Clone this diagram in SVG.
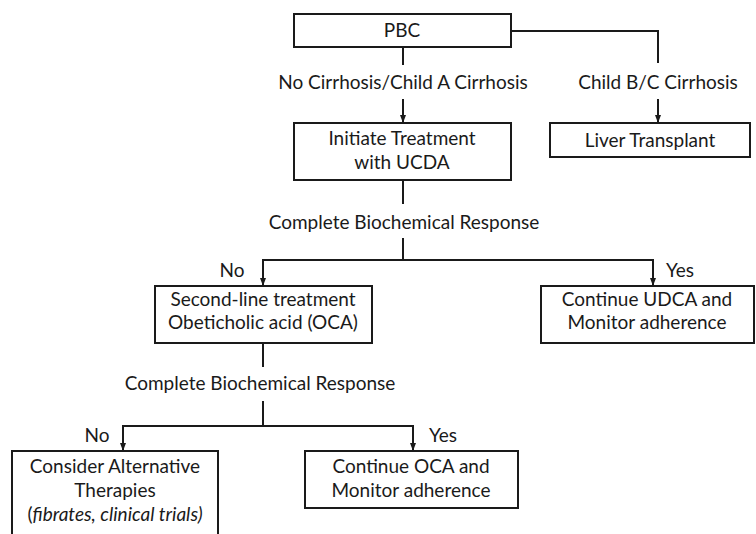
<svg xmlns="http://www.w3.org/2000/svg" width="756" height="534" viewBox="0 0 756 534">
<style>
.box{fill:#fff;stroke:#1a1a1a;stroke-width:2}
.ln{fill:none;stroke:#1a1a1a;stroke-width:2}
text{font-family:Lato,"Liberation Sans",sans-serif;font-size:19px;fill:#1a1a1a;text-anchor:middle}
</style>
<defs>
<marker id="ah" viewBox="0 0 8 8" refX="8" refY="4" markerWidth="8" markerHeight="8" markerUnits="userSpaceOnUse" orient="auto">
<path d="M0,1 L8,4 L0,7 Z" fill="#1a1a1a"/>
</marker>
</defs>
<rect width="756" height="534" fill="#fff"/>
<g id="connectors">
<line class="ln" x1="403" y1="47" x2="403" y2="65"/>
<line class="ln" x1="403" y1="99" x2="403" y2="123" marker-end="url(#ah)"/>
<path class="ln" d="M511,31 H658 V63"/>
<line class="ln" x1="658" y1="99" x2="658" y2="123" marker-end="url(#ah)"/>
<line class="ln" x1="403" y1="180" x2="403" y2="204"/>
<path class="ln" d="M403,238 V260"/>
<path class="ln" d="M262,260 H654"/>
<line class="ln" x1="263" y1="259" x2="263" y2="286" marker-end="url(#ah)"/>
<line class="ln" x1="653" y1="259" x2="653" y2="286" marker-end="url(#ah)"/>
<line class="ln" x1="263" y1="343" x2="263" y2="367"/>
<path class="ln" d="M263,401 V426"/>
<path class="ln" d="M122,426 H414"/>
<line class="ln" x1="123" y1="425" x2="123" y2="451" marker-end="url(#ah)"/>
<line class="ln" x1="413" y1="425" x2="413" y2="451" marker-end="url(#ah)"/>
<text x="403" y="89">No Cirrhosis/Child A Cirrhosis</text>
<text x="658" y="89">Child B/C Cirrhosis</text>
<text x="404" y="229">Complete Biochemical Response</text>
<text x="232" y="277">No</text>
<text x="680" y="277">Yes</text>
<text x="260" y="390">Complete Biochemical Response</text>
<text x="97" y="442">No</text>
<text x="443" y="442">Yes</text>
</g>
<g id="pbc"><rect class="box" x="294" y="14" width="217" height="33"/><text x="402" y="37">PBC</text></g>
<g id="initiate"><rect class="box" x="294" y="123" width="217" height="57"/><text x="402" y="145">Initiate Treatment</text><text x="402" y="169">with UCDA</text></g>
<g id="liver"><rect class="box" x="550" y="123" width="200" height="34"/><text x="650" y="147">Liver Transplant</text></g>
<g id="secondline"><rect class="box" x="155" y="286" width="217" height="57"/><text x="263" y="306">Second-line treatment</text><text x="263" y="329">Obeticholic acid (OCA)</text></g>
<g id="udca"><rect class="box" x="541" y="286" width="213" height="57"/><text x="647" y="306">Continue UDCA and</text><text x="647" y="329">Monitor adherence</text></g>
<g id="consider"><rect class="box" x="12" y="451" width="206" height="95"/><text x="115" y="473">Consider Alternative</text><text x="115" y="497">Therapies</text><text x="115" y="521">(<tspan font-style="italic">fibrates, clinical trials)</tspan></text></g>
<g id="oca"><rect class="box" x="305" y="451" width="213" height="57"/><text x="411" y="473">Continue OCA and</text><text x="411" y="497">Monitor adherence</text></g>
</svg>
